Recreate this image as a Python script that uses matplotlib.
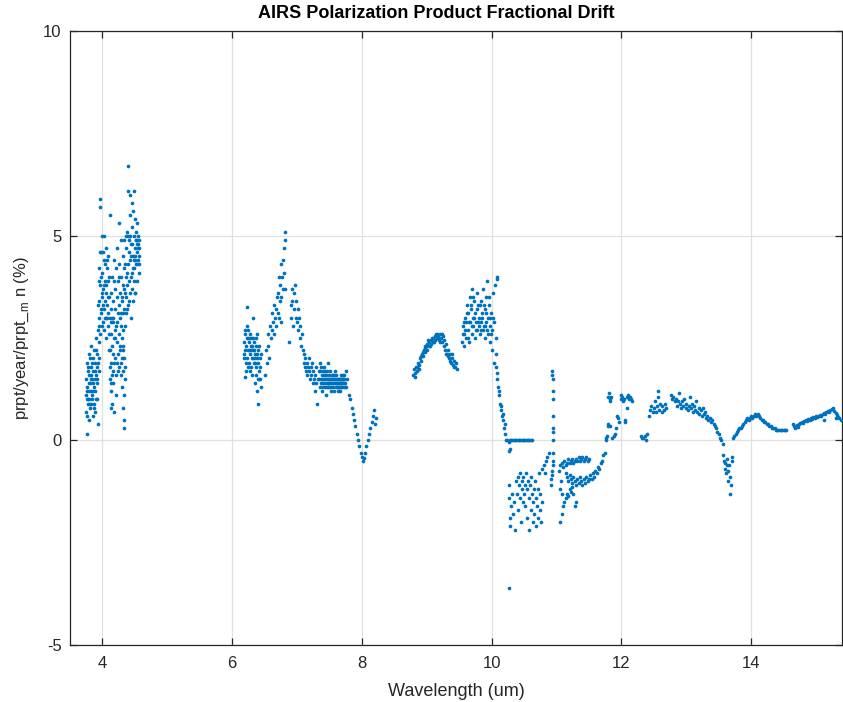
import matplotlib
matplotlib.use("Agg")
import matplotlib.pyplot as plt

plt.rcParams['font.family'] = ['Liberation Sans', 'DejaVu Sans']
plt.rcParams['axes.unicode_minus'] = False

# ---- data: (wavelength um, drift %) ----
swir_band = [
    (3.74,1.1),(3.75,0.7),(3.75,1.5),(3.76,1.0),(3.76,1.9),(3.77,0.15),(3.77,1.3),(3.78,0.9),(3.78,1.7),(3.79,1.2),
    (3.79,0.5),(3.80,1.6),(3.80,2.1),(3.80,1.0),(3.81,1.4),(3.81,0.8),(3.82,1.8),(3.82,1.2),(3.83,2.3),(3.83,1.5),
    (3.83,0.9),(3.84,1.1),(3.84,1.9),(3.85,1.4),(3.85,0.6),(3.86,1.7),(3.86,1.2),(3.87,2.2),(3.87,0.9),(3.88,1.5),
    (3.88,1.9),(3.89,1.2),(3.89,0.7),(3.90,1.6),(3.90,2.5),(3.91,1.0),(3.91,1.8),(3.92,2.1),(3.92,1.4),(3.93,0.4),
    (3.93,2.7),(3.94,1.7),(3.94,2.4),(3.95,3.0),(3.95,2.0),
    (3.94,4.2),(3.95,3.4),(3.96,5.7),(3.97,5.9),(3.96,2.6),(3.97,3.8),(3.98,3.1),(3.98,4.6),(3.99,2.8),(3.99,5.0),
    (4.00,3.5),(4.00,4.1),(4.01,2.9),(4.01,3.7),(4.02,4.4),(4.02,3.2),(4.03,5.0),(4.03,2.7),(4.04,3.9),(4.04,3.4),
    (4.05,4.7),(4.05,3.0),(4.06,3.6),(4.06,2.5),(4.07,4.2),(4.07,3.3),(4.08,2.8),(4.08,3.9),(4.09,3.1),(4.09,4.5),
    (4.10,2.6),(4.10,3.5),(4.11,5.5),(4.11,3.0),
    (4.12,2.2),(4.12,1.5),(4.13,0.8),(4.13,1.9),(4.14,2.6),(4.14,1.2),(4.15,0.9),(4.15,2.3),(4.16,1.7),(4.16,2.9),
    (4.17,1.4),(4.18,2.5),(4.18,0.7),(4.19,2.0),(4.20,2.7),(4.21,1.6),(4.22,2.4),(4.23,2.9),(4.24,2.1),(4.25,2.6),
    (4.26,1.8),(4.27,2.3),(4.28,2.8),(4.29,1.9),(4.30,2.5),(4.30,1.3),(4.31,2.2),(4.31,0.8),(4.32,1.7),(4.32,2.7),
    (4.33,1.1),(4.33,0.3),(4.34,2.0),(4.34,0.5),(4.35,1.5),(4.35,2.8),
    (4.13,3.6),(4.14,3.2),(4.15,4.0),(4.16,3.4),(4.17,3.0),(4.18,4.4),(4.19,3.7),(4.20,3.2),(4.21,4.2),(4.22,3.5),
    (4.23,4.7),(4.24,3.9),(4.25,3.3),(4.25,5.3),(4.26,4.3),(4.27,3.6),(4.28,4.9),(4.28,3.1),(4.29,4.0),(4.30,3.4),
    (4.31,4.5),(4.32,3.8),(4.33,4.9),(4.33,3.2),(4.34,4.2),(4.35,3.6),
    (4.36,4.0),(4.36,3.1),(4.37,4.7),(4.37,3.5),(4.38,5.1),(4.38,3.8),(4.39,6.7),(4.39,4.3),(4.40,6.1),(4.40,3.3),
    (4.41,4.9),(4.41,3.9),(4.42,5.5),(4.42,4.4),(4.43,3.6),(4.43,6.0),(4.44,4.8),(4.44,3.0),(4.45,5.2),(4.45,4.1),
    (4.46,3.7),(4.46,5.8),(4.47,4.5),(4.47,3.4),(4.48,5.0),(4.48,6.1),(4.49,4.2),(4.49,3.9),(4.50,4.7),(4.50,5.4),
    (4.51,4.4),(4.51,3.6),(4.52,5.1),(4.52,4.9),(4.53,4.6),(4.53,5.3),(4.54,4.3),(4.54,3.9),(4.55,4.8),(4.55,5.0),
    (4.56,4.5),(4.56,4.1),(4.57,4.7),(4.57,4.3),
    (3.755,1.2),(3.765,0.6),(3.775,1.8),(3.785,1.0),(3.795,1.4),(3.805,0.9),(3.815,2.0),(3.825,1.6),(3.835,1.0),(3.845,1.5),
    (3.855,2.0),(3.865,0.8),(3.875,1.3),(3.885,1.7),(3.895,1.0),(3.905,2.2),(3.915,1.5),(3.925,1.9),(3.935,3.3),(3.945,2.8),
    (3.955,3.9),(3.965,4.6),(3.975,3.2),(3.985,4.0),(3.995,3.6),(4.005,4.6),(4.015,3.3),(4.025,3.8),(4.035,4.3),(4.045,3.0),
    (4.055,3.8),(4.065,4.4),(4.075,3.0),(4.085,3.5),(4.095,4.0),(4.105,2.2),(4.115,1.8),(4.125,2.9),(4.135,1.4),(4.145,3.0),
    (4.155,1.6),(4.165,2.1),(4.175,3.9),(4.185,1.9),(4.195,2.5),(4.205,1.1),(4.215,2.8),(4.225,1.9),(4.235,3.1),(4.245,1.7),
    (4.255,4.0),(4.265,2.2),(4.275,3.0),(4.285,1.6),(4.295,3.5),(4.305,2.0),(4.315,3.1),(4.325,2.3),(4.335,3.7),(4.345,1.8),
    (4.355,4.3),(4.365,5.0),(4.375,4.1),(4.385,3.2),(4.395,5.0),(4.405,4.6),(4.415,3.4),(4.425,5.0),(4.435,4.5),(4.445,4.0),
    (4.455,4.8),(4.465,4.2),(4.475,5.6),(4.485,4.4),(4.495,3.6),(4.505,4.5),(4.515,4.9),(4.525,4.3),(4.535,4.8),(4.545,4.7),
    (4.555,4.4),(4.565,4.9),
]

mw_band = [
    (6.18,2.4),(6.19,2.1),(6.20,1.55),(6.20,2.6),(6.21,2.3),(6.22,1.9),(6.23,3.25),(6.23,2.5),(6.24,2.2),(6.25,2.7),
    (6.25,1.8),(6.26,2.4),(6.27,2.1),(6.28,2.6),(6.28,1.7),(6.29,2.3),(6.30,2.0),(6.30,2.5),(6.31,1.6),(6.32,3.0),
    (6.32,2.2),(6.33,1.9),(6.34,2.4),(6.35,2.1),(6.35,1.4),(6.36,2.3),(6.37,1.8),(6.38,2.6),(6.38,1.2),(6.39,2.0),
    (6.40,0.9),(6.40,2.2),(6.41,1.7),(6.42,1.5),(6.43,2.0),(6.44,1.3),(6.45,2.1),
    (6.185,2.0),(6.195,2.7),(6.205,2.2),(6.215,1.7),(6.225,2.8),(6.235,2.0),(6.245,2.5),(6.255,2.2),(6.265,1.9),(6.275,2.5),
    (6.285,2.2),(6.295,1.8),(6.305,2.3),(6.315,2.0),(6.325,2.5),(6.335,2.2),(6.345,1.9),(6.355,2.0),(6.365,2.5),(6.375,1.6),
    (6.385,2.1),(6.395,1.5),(6.405,1.9),(6.415,2.3),(6.425,1.8),(6.435,1.5),
    (6.50,1.6),(6.52,2.2),(6.53,1.9),(6.55,2.6),(6.56,2.3),(6.57,2.0),(6.58,2.8),(6.60,2.5),(6.61,3.1),(6.62,2.7),
    (6.63,2.9),(6.64,3.3),(6.65,2.6),(6.66,3.0),(6.67,3.2),(6.68,2.8),(6.69,3.5),(6.70,3.1),(6.71,3.6),(6.72,3.0),
    (6.72,4.0),(6.73,3.4),(6.74,3.8),(6.75,4.3),(6.75,2.9),(6.76,3.5),(6.77,4.0),(6.78,3.7),(6.79,4.4),(6.80,4.7),
    (6.80,4.1),(6.81,5.1),(6.82,4.9),(6.82,3.7),
    (6.88,2.4),(6.90,3.3),(6.91,3.0),(6.92,3.7),(6.93,3.4),(6.94,2.8),(6.95,3.6),(6.96,3.2),(6.97,3.8),(6.98,3.0),
    (6.99,3.4),(7.00,2.9),(7.01,3.2),(7.02,2.7),(7.03,3.0),(7.04,2.5),(7.05,2.8),(7.06,2.3),(7.07,2.6),
    (7.09,2.2),(7.10,1.9),(7.11,2.1),(7.12,1.8),(7.13,2.0),(7.14,1.7),(7.15,1.9),(7.16,1.6),(7.17,1.8),(7.18,2.0),
    (7.19,1.7),(7.20,1.5),(7.21,1.8),(7.22,1.6),(7.23,1.9),(7.24,1.4),(7.25,1.7),(7.26,1.5),(7.27,1.2),(7.28,1.6),
    (7.29,1.8),(7.30,1.4),(7.31,0.9),(7.32,1.5),
    (7.34,1.7),(7.35,1.3),(7.36,1.9),(7.37,1.5),(7.38,1.6),(7.39,1.2),(7.40,1.7),(7.41,1.4),(7.42,1.8),(7.43,1.3),
    (7.44,1.6),(7.45,1.1),(7.46,1.5),(7.47,1.9),(7.48,1.4),(7.49,1.6),(7.50,1.3),(7.51,1.7),(7.52,1.5),(7.53,1.2),
    (7.54,1.4),(7.55,1.6),(7.56,1.3),(7.57,1.5),(7.58,1.4),(7.59,1.7),(7.60,1.3),(7.61,1.5),(7.62,1.4),(7.63,1.2),
    (7.64,1.5),(7.65,1.3),(7.66,1.4),(7.67,1.6),(7.68,1.3),(7.69,1.5),(7.70,1.4),(7.71,1.6),(7.72,1.3),(7.73,1.5),
    (7.74,1.4),(7.75,1.7),(7.76,1.3),(7.77,1.5),
    (7.345,1.5),(7.355,1.7),(7.365,1.4),(7.375,1.8),(7.385,1.4),(7.395,1.5),(7.405,1.3),(7.415,1.6),(7.425,1.5),(7.435,1.7),
    (7.445,1.4),(7.455,1.3),(7.465,1.7),(7.475,1.5),(7.485,1.3),(7.495,1.4),(7.505,1.5),(7.515,1.4),(7.525,1.3),(7.535,1.5),
    (7.545,1.6),(7.555,1.4),(7.565,1.2),(7.575,1.6),(7.585,1.5),(7.595,1.4),(7.605,1.6),(7.615,1.3),(7.625,1.5),(7.635,1.4),
    (7.645,1.3),(7.655,1.5),(7.665,1.2),(7.675,1.4),(7.685,1.5),(7.695,1.3),(7.705,1.5),(7.715,1.4),(7.725,1.6),(7.735,1.3),
    (7.80,1.1),(7.82,1.0),(7.84,0.8),(7.86,0.65),(7.88,0.5),(7.90,0.35),(7.92,0.15),(7.94,0.0),(7.96,-0.15),(7.98,-0.3),
    (8.00,-0.4),(8.02,-0.5),(8.03,-0.42),(8.05,-0.3),(8.07,-0.15),(8.09,0.0),(8.11,0.15),(8.13,0.3),(8.15,0.45),(8.17,0.6),
    (8.19,0.75),(8.21,0.55),(8.20,0.4),
]

lw_band_a = [
    (8.79,1.6),(8.80,1.75),(8.82,1.65),(8.83,1.8),(8.85,1.7),(8.86,1.9),(8.88,1.85),(8.89,2.0),(8.91,1.95),(8.92,2.1),
    (8.94,2.05),(8.95,2.2),(8.97,2.15),(8.98,2.3),(9.00,2.2),(9.01,2.35),(9.03,2.3),(9.04,2.4),(9.06,2.35),(9.07,2.45),
    (9.09,2.4),(9.10,2.5),(9.12,2.45),(9.13,2.55),(9.15,2.5),(9.16,2.6),(9.18,2.55),(9.19,2.45),(9.21,2.6),(9.22,2.5),
    (9.24,2.4),(9.25,2.55),(9.27,2.3),(9.28,2.2),(9.30,2.35),(9.31,2.1),(9.33,2.2),(9.34,2.0),(9.36,2.1),(9.37,1.9),
    (9.39,2.0),(9.40,1.85),(9.42,1.95),(9.43,1.8),
    (8.815,1.55),(8.845,1.8),(8.875,1.75),(8.905,2.05),(8.935,2.15),(8.965,2.25),(8.995,2.3),(9.025,2.45),(9.055,2.3),(9.085,2.5),
    (9.115,2.4),(9.145,2.6),(9.175,2.5),(9.205,2.4),(9.235,2.6),(9.265,2.45),(9.295,2.1),(9.325,2.05),(9.355,1.95),(9.385,2.1),
    (9.415,1.8),(9.445,1.9),(9.46,1.75),
    (9.55,2.4),(9.56,2.8),(9.57,2.3),(9.58,2.6),(9.59,3.0),(9.60,2.5),(9.61,2.9),(9.62,3.3),(9.63,2.7),(9.64,3.1),
    (9.65,2.4),(9.66,3.5),(9.67,2.9),(9.68,3.2),(9.69,2.6),(9.70,3.7),(9.71,3.0),(9.72,2.8),(9.73,3.4),(9.74,2.5),
    (9.75,3.1),(9.76,2.9),(9.77,3.6),(9.78,2.7),(9.79,3.3),(9.80,2.8),(9.81,3.0),(9.82,2.6),(9.83,3.4),(9.84,2.9),
    (9.85,3.1),(9.86,2.7),(9.87,3.7),(9.88,2.8),(9.89,3.2),(9.90,2.5),(9.91,3.5),(9.92,2.9),(9.93,3.9),(9.94,3.0),
    (9.95,2.6),(9.96,3.3),(9.97,2.8),(9.98,2.4),(9.99,3.1),(10.00,2.7),(10.01,2.2),(10.02,3.6),(10.03,2.9),(10.04,1.9),
    (10.05,3.8),(10.06,2.5),(10.08,4.0),(10.09,3.95),(10.07,2.1),
    (9.555,2.6),(9.575,2.9),(9.595,2.7),(9.615,3.1),(9.635,2.5),(9.655,2.9),(9.675,3.3),(9.695,2.8),(9.715,3.5),(9.735,3.0),
    (9.755,2.7),(9.775,3.2),(9.795,2.9),(9.815,3.3),(9.835,2.7),(9.855,3.0),(9.875,3.3),(9.895,2.8),(9.915,3.1),(9.935,2.7),
    (9.955,3.5),(9.975,3.0),(9.995,2.6),(10.015,3.0),
    (10.07,1.8),(10.08,1.5),(10.09,1.65),(10.10,1.3),(10.11,1.1),(10.12,1.2),(10.13,0.9),(10.14,0.75),(10.15,0.85),(10.16,0.6),
    (10.17,0.5),(10.18,0.65),(10.19,0.3),(10.20,0.4),(10.21,0.15),
    (10.22,0.0),(10.24,0.0),(10.26,-0.05),(10.28,0.0),(10.30,0.0),(10.27,-0.25),(10.29,-0.2),(10.32,0.0),(10.34,0.0),(10.36,0.0),
    (10.38,0.0),(10.40,0.0),(10.42,0.0),(10.44,0.0),(10.46,0.0),(10.48,0.0),(10.50,0.0),(10.52,0.0),(10.54,0.0),(10.56,0.0),
    (10.58,0.0),(10.60,0.0),(10.62,0.0),
]

lw_band_b = [
    (10.26,-3.6),
    (10.26,-1.1),(10.27,-1.4),(10.28,-1.9),(10.29,-2.1),(10.30,-1.6),(10.31,-1.3),(10.33,-1.8),(10.35,-1.5),(10.36,-2.2),(10.38,-1.0),
    (10.39,-1.3),(10.40,-0.9),(10.41,-1.7),(10.42,-1.1),(10.43,-1.4),(10.44,-0.8),(10.45,-2.0),(10.46,-1.2),(10.47,-1.0),(10.48,-1.5),
    (10.49,-0.9),(10.50,-1.3),(10.51,-1.1),(10.52,-1.6),(10.53,-0.8),(10.54,-1.2),(10.55,-1.9),(10.56,-1.0),(10.57,-1.4),(10.58,-2.2),
    (10.59,-1.1),(10.60,-1.7),(10.61,-0.9),(10.62,-1.3),(10.63,-2.0),(10.64,-1.5),(10.65,-1.2),(10.66,-1.8),(10.67,-1.0),(10.68,-1.4),
    (10.69,-2.1),(10.70,-1.6),(10.71,-1.2),(10.72,-1.9),(10.73,-0.8),(10.74,-1.7),(10.75,-1.3),(10.76,-2.0),(10.77,-0.7),(10.78,-1.5),
    (10.80,-0.6),(10.82,-0.8),(10.84,-0.5),(10.86,-0.4),(10.88,-0.3),
    (10.93,1.7),(10.93,1.6),(10.94,1.5),(10.94,1.2),(10.94,1.0),(10.94,0.6),(10.94,0.3),(10.94,0.2),(10.94,0.0),(10.94,-0.3),
    (10.94,-0.5),(10.94,-0.6),(10.93,-0.75),(10.93,-0.85),(10.92,-0.95),(10.92,-1.1),
    (11.04,-0.75),(11.06,-0.6),(11.08,-0.55),(11.10,-0.65),(11.12,-0.5),(11.14,-0.6),(11.16,-0.55),(11.18,-0.45),(11.20,-0.55),(11.22,-0.5),
    (11.24,-0.45),(11.26,-0.55),(11.28,-0.5),(11.30,-0.45),(11.32,-0.5),(11.34,-0.4),(11.36,-0.5),(11.38,-0.45),(11.40,-0.4),(11.42,-0.5),
    (11.44,-0.45),(11.46,-0.4),(11.48,-0.5),(11.50,-0.45),
    (11.14,-0.8),(11.16,-0.9),(11.18,-1.0),(11.20,-0.85),(11.22,-0.95),(11.24,-1.05),(11.26,-0.9),(11.28,-1.0),(11.30,-1.1),(11.32,-0.95),
    (11.34,-1.05),(11.36,-0.9),(11.38,-1.0),(11.40,-1.1),(11.42,-0.95),(11.44,-1.05),(11.46,-0.9),(11.48,-1.0),(11.50,-0.95),(11.52,-0.85),
    (11.54,-0.95),(11.56,-0.8),(11.58,-0.9),(11.60,-0.75),(11.62,-0.8),(11.64,-0.65),(11.66,-0.7),(11.68,-0.55),(11.70,-0.5),(11.72,-0.35),
    (11.74,-0.3),
    (11.06,-2.0),(11.08,-1.8),(11.10,-1.6),(11.12,-1.5),(11.14,-1.4),(11.16,-1.3),(11.18,-1.35),(11.20,-1.2),(11.22,-1.25),(11.24,-1.15),
    (11.26,-1.3),(11.28,-1.6),(11.30,-1.5),(11.05,-1.2),(11.07,-1.0),(11.09,-1.3),
]

lw_band_c = [
    (11.76,0.0),(11.77,0.05),(11.78,0.1),(11.79,0.35),(11.80,0.4),(11.82,0.35),(11.80,1.05),(11.81,1.15),(11.82,1.0),(11.83,0.95),
    (11.84,1.05),(11.86,0.05),(11.88,0.1),(11.90,0.15),(11.92,0.3),(11.93,0.6),(11.95,0.55),(11.97,0.45),(11.99,1.1),(12.00,1.0),
    (12.01,1.05),(12.02,0.95),(12.04,1.0),(12.05,0.5),(12.06,0.45),(12.08,0.8),(12.09,1.05),(12.10,1.1),(12.12,1.0),(12.14,1.05),
    (12.15,1.0),(12.17,0.95),(12.30,0.1),(12.32,0.05),(12.34,0.05),(12.36,0.1),(12.38,0.0),(12.40,0.15),
    (12.42,0.6),(12.44,0.75),(12.46,0.85),(12.48,0.7),(12.50,0.8),(12.52,0.95),(12.53,0.7),(12.55,0.85),(12.56,1.2),(12.57,1.05),
    (12.58,0.75),(12.60,0.9),(12.62,0.7),(12.63,0.85),(12.65,0.75),(12.67,0.9),(12.68,0.8),
    (12.76,1.1),(12.78,1.0),(12.80,1.05),(12.82,0.95),(12.84,1.0),(12.85,0.85),(12.87,0.95),(12.88,1.15),(12.90,0.9),(12.92,0.8),
    (12.94,0.95),(12.95,0.85),(12.97,1.0),(12.99,0.8),(13.00,0.9),(13.02,0.75),(13.04,0.85),(13.05,1.05),(13.07,0.8),
    (13.09,0.9),(13.10,0.7),(13.12,0.85),(13.14,0.75),(13.15,0.95),(13.17,0.7),(13.19,0.8),(13.20,0.65),(13.22,0.75),(13.24,0.6),
    (13.25,0.8),(13.27,0.65),(13.29,0.7),(13.30,0.55),(13.32,0.6),(13.34,0.5),(13.36,0.55),
    (13.38,0.45),(13.40,0.5),(13.42,0.4),(13.44,0.35),(13.46,0.3),(13.48,0.2),(13.50,0.15),(13.52,0.05),(13.54,0.0),(13.56,-0.1),
    (13.57,-0.35),(13.58,-0.5),(13.59,-0.7),(13.60,-0.55),(13.61,-0.8),(13.62,-0.6),(13.63,-0.45),(13.64,-0.75),(13.65,-1.0),(13.66,-0.6),
    (13.67,-0.9),(13.68,-1.3),(13.69,-1.1),(13.70,-0.4),(13.71,-0.5),
    (13.72,0.05),(13.74,0.1),(13.76,0.15),(13.78,0.2),(13.80,0.25),(13.82,0.3),(13.84,0.3),(13.86,0.35),(13.88,0.4),(13.90,0.45),
    (13.92,0.5),(13.94,0.55),(13.96,0.5),(13.98,0.55),(14.00,0.6),(14.02,0.55),(14.04,0.6),(14.06,0.65),(14.08,0.6),(14.10,0.65),
    (14.12,0.6),(14.14,0.55),(14.16,0.5),(14.18,0.5),(14.20,0.45),(14.22,0.45),(14.24,0.4),(14.26,0.4),(14.28,0.35),(14.30,0.35),
    (14.32,0.3),(14.34,0.3),(14.36,0.3),(14.38,0.25),(14.40,0.25),(14.42,0.25),(14.44,0.25),(14.46,0.25),(14.48,0.25),(14.50,0.25),
    (14.52,0.25),(14.54,0.25),
    (14.64,0.4),(14.66,0.35),(14.68,0.3),(14.70,0.38),(14.72,0.32),(14.74,0.4),(14.76,0.42),(14.78,0.45),(14.80,0.43),(14.82,0.48),
    (14.84,0.5),(14.86,0.47),(14.88,0.52),(14.90,0.5),(14.92,0.55),(14.94,0.53),(14.96,0.58),(14.98,0.55),(15.00,0.6),(15.02,0.57),
    (15.04,0.6),(15.06,0.63),(15.08,0.6),(15.10,0.65),(15.12,0.68),(15.14,0.64),(15.16,0.7),(15.18,0.72),(15.20,0.7),(15.22,0.75),
    (15.24,0.77),(15.26,0.78),(15.28,0.72),(15.30,0.68),(15.32,0.62),(15.34,0.58),(15.36,0.55),(15.38,0.5),(15.12,0.5),(15.30,0.55),
]

x_ticks = [4, 6, 8, 10, 12, 14]
y_ticks = [-5, 0, 5, 10]

title_text = "AIRS Polarization Product Fractional Drift"
x_label = "Wavelength (um)"
y_label = r"prpt/year/prpt_$_{\mathregular{m}}$ n (%)"

# ---- figure ----
fig = plt.figure(figsize=(8.43, 7.02), dpi=100)
ax = fig.add_axes([0.0830, 0.0812, 0.9158, 0.8746])

dark = "#262626"
for band in (swir_band, mw_band, lw_band_a, lw_band_b, lw_band_c):
    xs = [p[0] for p in band]
    ys = [p[1] for p in band]
    ax.scatter(xs, ys, s=7, color="#0072BD", marker="o", linewidths=0, zorder=3)

ax.set_xlim(3.5, 15.4)
ax.set_ylim(-5, 10)
ax.set_xticks(x_ticks)
ax.set_yticks(y_ticks)
ax.grid(True, color="#e0e0e0", linewidth=0.9)
ax.set_axisbelow(True)

for sp in ax.spines.values():
    sp.set_color(dark)
    sp.set_linewidth(0.9)

ax.tick_params(direction="in", length=5, width=0.9, colors=dark,
               labelsize=12, top=True, right=True)
ax.tick_params(axis="x", pad=8)
ax.tick_params(axis="y", pad=6)

ax.set_title(title_text, fontsize=13, fontweight="bold", pad=9.5, x=0.475)
ax.set_xlabel(x_label, fontsize=13, color=dark, labelpad=8.5)
ax.set_ylabel(y_label, fontsize=12, color=dark, labelpad=9)

fig.savefig("out.png", dpi=100)
